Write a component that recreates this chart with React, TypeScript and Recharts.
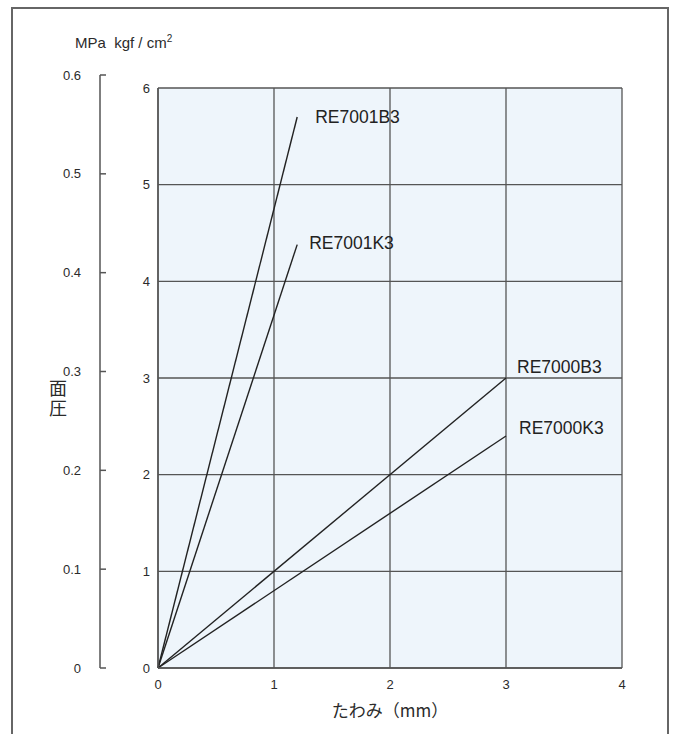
import React from "react";
import { LineChart, Line, XAxis, YAxis, CartesianGrid, Label } from "recharts";

// 面圧 vs たわみ
const SERIES = ["RE7001B3", "RE7001K3", "RE7000B3", "RE7000K3"];
const END_X = [1.2, 1.2, 3, 3];
const END_Y = [5.7, 4.38, 3, 2.4];
const X_TICKS = [0, 1, 2, 3, 4];
const Y_TICKS = [0, 1, 2, 3, 4, 5, 6];
const MPA_TICKS = [0, 0.1, 0.2, 0.3, 0.4, 0.5, 0.6];

// label offsets from the end of each line
const LABEL_DX = [18, 12, 11, 13];
const LABEL_DY = [0, -2, -11, -8];

const FONT = "'Liberation Sans', Arial, sans-serif";
const JP = "'Noto Sans CJK JP', sans-serif";
const INK = "#2b2b2b";

const seriesData = SERIES.map((name, i) => ({
  name,
  points: [
    { x: 0, y: 0 },
    { x: END_X[i], y: END_Y[i] },
  ],
}));

const mpaData = MPA_TICKS.map((v, i) => ({ i, v }));

function renderMpaTick(props: any) {
  const { x, y, payload } = props;
  return (
    <g key={`mpa-${payload.value}`}>
      <line x1={x} y1={y} x2={x + 6} y2={y} stroke="#555" strokeWidth={1.5} />
      <text x={x - 19} y={y} dy={4.5} textAnchor="end" fontSize={13} fill={INK} fontFamily={FONT}>
        {payload.value}
      </text>
    </g>
  );
}

function EndLabel(i: number) {
  return (props: any) => {
    const { x, y, index } = props;
    if (index !== 1) return null;
    return (
      <text
        key={`lbl-${i}`}
        x={x + LABEL_DX[i]}
        y={y + LABEL_DY[i]}
        dy={6}
        fontSize={17.5}
        fill="#222"
        fontFamily={FONT}
      >
        {SERIES[i]}
      </text>
    );
  };
}

export default function App() {
  return (
    <div style={{ position: "absolute", left: 0, top: 0, width: 673, height: 734, background: "#fff", overflow: "hidden" }}>
      <div
        style={{
          position: "absolute",
          left: 11,
          top: 7,
          width: 654,
          height: 740,
          borderLeft: "2px solid #666",
          borderTop: "2px solid #666",
          borderRight: "2px solid #666",
        }}
      />
      <div style={{ position: "absolute", left: 75, top: 33, fontFamily: FONT, fontSize: 15, color: INK, whiteSpace: "pre" }}>
        MPa  kgf / cm<sup style={{ fontSize: 10 }}>2</sup>
      </div>
      <div
        style={{
          position: "absolute",
          left: 48,
          top: 379,
          writingMode: "vertical-rl",
          fontFamily: JP,
          fontSize: 18,
          lineHeight: "20px",
          letterSpacing: 2,
          color: INK,
        }}
      >
        面圧
      </div>

      {/* MPa scale */}
      <div style={{ position: "absolute", left: 0, top: 0 }}>
        <LineChart width={130} height={734} data={mpaData} margin={{ top: 75, right: 30, bottom: 66, left: 0 }}>
          <XAxis dataKey="i" hide />
          <YAxis
            type="number"
            domain={[0, 0.6]}
            ticks={MPA_TICKS}
            width={100}
            tickSize={0}
            tickMargin={0}
            tickLine={false}
            axisLine={{ stroke: "#555", strokeWidth: 1.5 }}
            tick={renderMpaTick}
            interval={0}
          />
          <Line dataKey="v" stroke="none" dot={false} activeDot={false} isAnimationActive={false} />
        </LineChart>
      </div>

      {/* main chart */}
      <div style={{ position: "absolute", left: 0, top: 0 }}>
        <LineChart width={673} height={734} margin={{ top: 88, right: 51, bottom: 36, left: 128 }}>
          <CartesianGrid stroke="#555" strokeWidth={1.3} fill="#eef5fb" fillOpacity={1} />
          <XAxis
            type="number"
            dataKey="x"
            domain={[0, 4]}
            ticks={X_TICKS}
            interval={0}
            height={30}
            tickLine={false}
            tickSize={0}
            tickMargin={12}
            axisLine={{ stroke: "#555", strokeWidth: 1.5 }}
            tick={{ fontSize: 13, fill: INK, fontFamily: FONT }}
          >
            <Label
              value="たわみ（mm）"
              position="bottom"
              offset={7}
              style={{ fontSize: 17, fill: INK, fontFamily: JP }}
            />
          </XAxis>
          <YAxis
            type="number"
            domain={[0, 6]}
            ticks={Y_TICKS}
            interval={0}
            width={30}
            tickLine={false}
            tickSize={0}
            tickMargin={8}
            axisLine={{ stroke: "#555", strokeWidth: 1.5 }}
            tick={{ fontSize: 13, fill: INK, fontFamily: FONT }}
          />
          {seriesData.map((s, i) => (
            <Line
              key={s.name}
              data={s.points}
              dataKey="y"
              name={s.name}
              stroke="#222"
              strokeWidth={1.4}
              dot={false}
              activeDot={false}
              label={EndLabel(i)}
              isAnimationActive={false}
            />
          ))}
        </LineChart>
      </div>
    </div>
  );
}
